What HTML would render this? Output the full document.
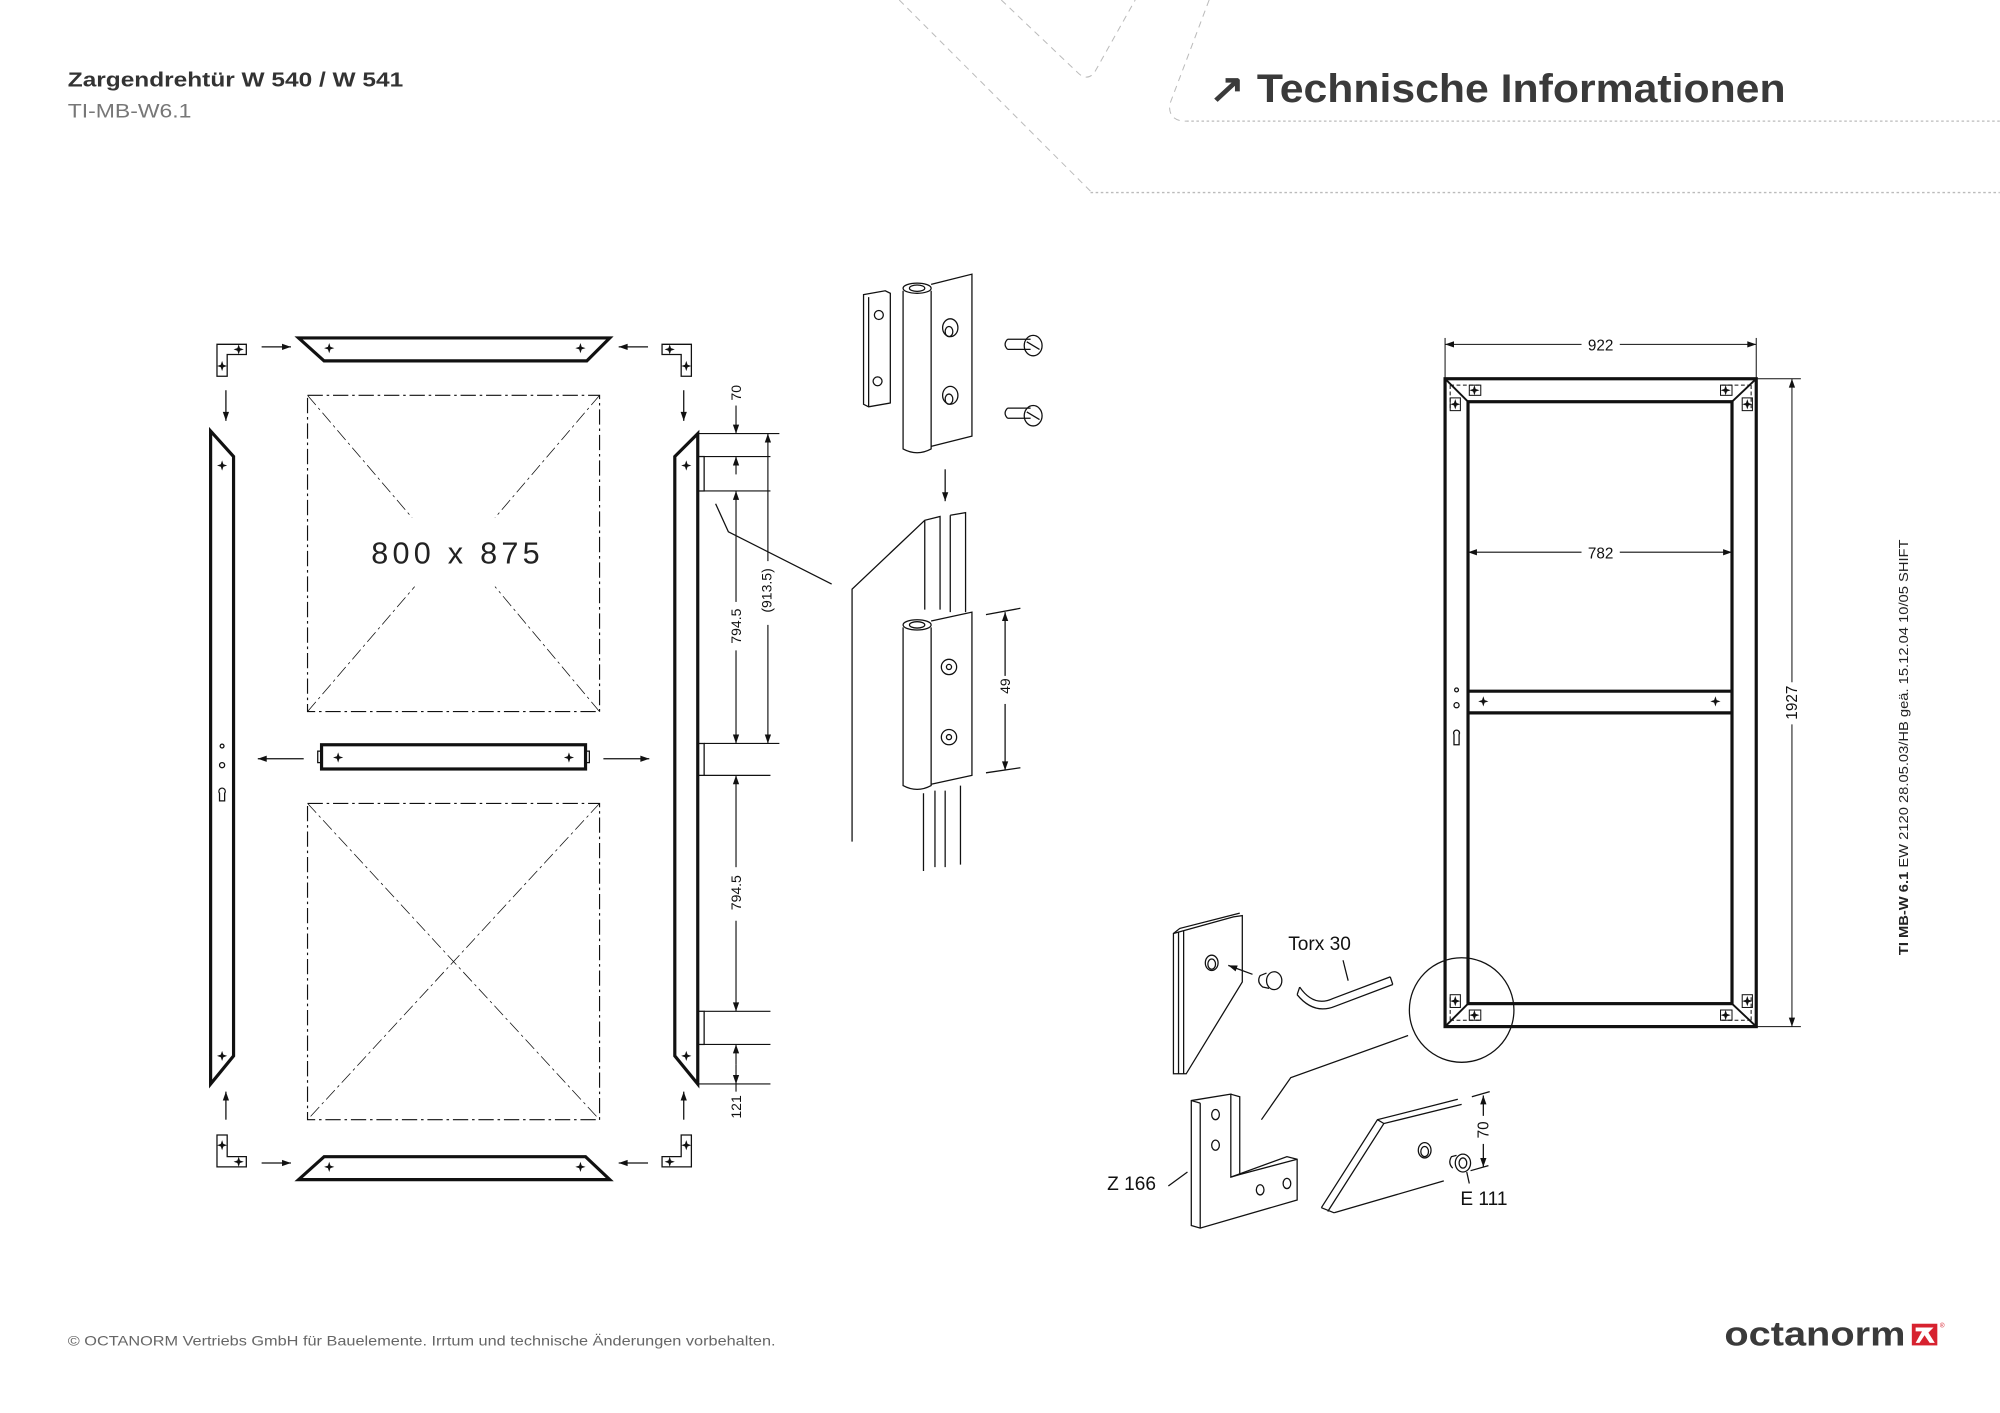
<!DOCTYPE html>
<html><head><meta charset="utf-8"><style>
html,body{margin:0;padding:0;background:#fff;width:2000px;height:1413px;overflow:hidden}
svg{display:block}
text{font-family:"Liberation Sans",sans-serif}
</style></head><body>
<svg width="2000" height="1413" viewBox="0 0 1568 1108" xmlns="http://www.w3.org/2000/svg">
<defs>
<g id="mk"><path d="M0,-4 L1,-1 L4,0 L1,1 L0,4 L-1,1 L-4,0 L-1,-1Z" fill="#111"/></g>
<marker id="ah" viewBox="0 0 10 10" refX="10" refY="5" markerWidth="9" markerHeight="7" orient="auto-start-reverse" markerUnits="userSpaceOnUse"><path d="M0,1.5 L10,5 L0,8.5Z" fill="#111"/></marker>
</defs>

<g fill="none" stroke="#bbb" stroke-width="0.8" stroke-dasharray="5,4">
<path d="M705,0 L855,150"/>
<path d="M785,0 L845,57 Q852,64 858,57 L890,0"/>
<path d="M948,0 L917,82 Q916,95 930,95"/>
</g>
<g stroke="#bbb" stroke-width="1" stroke-dasharray="2,2">
<line x1="930" y1="95" x2="1568" y2="95"/>
<line x1="855" y1="151" x2="1568" y2="151"/>
</g>

<text x="53" y="68" font-size="16" font-weight="bold" fill="#333" textLength="263" lengthAdjust="spacingAndGlyphs">Zargendrehtür W 540 / W 541</text>
<text x="53" y="92" font-size="15" fill="#777" textLength="97" lengthAdjust="spacingAndGlyphs">TI-MB-W6.1</text>
<text x="948" y="80" font-size="31" font-weight="bold" fill="#3a3a3a" textLength="452" lengthAdjust="spacingAndGlyphs">↗ Technische Informationen</text>

<g fill="none" stroke="#111" stroke-width="1">
<path d="M170,270 H193 V278 H178 V295 H170Z"/>
<path d="M542,270 H519 V278 H534 V295 H542Z"/>
<path d="M170,915 H193 V907 H178 V890 H170Z"/>
<path d="M542,915 H519 V907 H534 V890 H542Z"/>
<path d="M234,265 H478 L460,283 H254Z" stroke-width="2.5"/>
<path d="M254,907 H459 L478,925 H234Z" stroke-width="2.5"/>
<line x1="205" y1="272" x2="228" y2="272" marker-end="url(#ah)"/>
<line x1="508" y1="272" x2="485" y2="272" marker-end="url(#ah)"/>
<line x1="177" y1="306" x2="177" y2="330" marker-end="url(#ah)"/>
<line x1="536" y1="306" x2="536" y2="330" marker-end="url(#ah)"/>
<line x1="177" y1="878" x2="177" y2="856" marker-end="url(#ah)"/>
<line x1="536" y1="878" x2="536" y2="856" marker-end="url(#ah)"/>
<line x1="205" y1="912" x2="228" y2="912" marker-end="url(#ah)"/>
<line x1="508" y1="912" x2="485" y2="912" marker-end="url(#ah)"/>
<line x1="238" y1="595" x2="202" y2="595" marker-end="url(#ah)"/>
<line x1="473" y1="595" x2="509" y2="595" marker-end="url(#ah)"/>
<path d="M165,338 L183,358 V828 L165,850Z" stroke-width="2.5"/>
<circle cx="174" cy="585" r="1.5"/><circle cx="174" cy="600" r="2"/>
<path d="M172,628 V622 A2.5,2.5 0 1 1 176,622 V628Z"/>
<path d="M547,340 L529,358 V828 L547,850Z" stroke-width="2.5"/>
<rect x="547" y="358" width="5" height="27"/><rect x="547" y="583" width="5" height="25"/><rect x="547" y="793" width="5" height="26"/>
<rect x="252" y="584" width="207" height="19" stroke-width="2.5"/>
<rect x="249" y="589" width="3" height="9"/><rect x="459" y="589" width="3" height="9"/>
<g stroke-dasharray="12,3,2,3" stroke-width="0.9">
<rect x="241" y="310" width="229" height="248"/>
<rect x="241" y="630" width="229" height="248"/>
</g>
<g stroke-dasharray="10,3,2,3" stroke-width="0.6">
<line x1="241" y1="310" x2="323" y2="406"/><line x1="470" y1="310" x2="388" y2="406"/>
<line x1="241" y1="558" x2="325" y2="460"/><line x1="470" y1="558" x2="388" y2="460"/>
<line x1="241" y1="630" x2="470" y2="878"/><line x1="470" y1="630" x2="241" y2="878"/>
</g>
<g stroke-width="0.9">
<line x1="547" y1="340" x2="611" y2="340"/><line x1="552" y1="358" x2="604" y2="358"/>
<line x1="552" y1="385" x2="604" y2="385"/><line x1="552" y1="583" x2="611" y2="583"/>
<line x1="552" y1="608" x2="604" y2="608"/><line x1="552" y1="793" x2="604" y2="793"/>
<line x1="552" y1="819" x2="604" y2="819"/><line x1="547" y1="850" x2="604" y2="850"/>
<line x1="577" y1="318" x2="577" y2="340" marker-end="url(#ah)"/>
<line x1="577" y1="372" x2="577" y2="358" marker-end="url(#ah)"/>
<line x1="577" y1="472" x2="577" y2="385" marker-end="url(#ah)"/>
<line x1="577" y1="510" x2="577" y2="583" marker-end="url(#ah)"/>
<line x1="602" y1="440" x2="602" y2="340" marker-end="url(#ah)"/>
<line x1="602" y1="490" x2="602" y2="583" marker-end="url(#ah)"/>
<line x1="577" y1="680" x2="577" y2="608" marker-end="url(#ah)"/>
<line x1="577" y1="722" x2="577" y2="793" marker-end="url(#ah)"/>
<line x1="577" y1="835" x2="577" y2="819" marker-end="url(#ah)"/>
<line x1="577" y1="835" x2="577" y2="850" marker-end="url(#ah)"/>
<line x1="577" y1="850" x2="577" y2="856"/>
</g>
<path d="M561,395 L571,417 L652,458"/>
</g>
<use href="#mk" x="174" y="365"/><use href="#mk" x="174" y="828"/>
<use href="#mk" x="538" y="365"/><use href="#mk" x="538" y="828"/>
<use href="#mk" x="258" y="273"/><use href="#mk" x="455" y="273"/>
<use href="#mk" x="258" y="915"/><use href="#mk" x="455" y="915"/>
<use href="#mk" x="265" y="594"/><use href="#mk" x="446" y="594"/>
<use href="#mk" x="187" y="274"/><use href="#mk" x="174" y="287"/>
<use href="#mk" x="525" y="274"/><use href="#mk" x="538" y="287"/>
<use href="#mk" x="187" y="911"/><use href="#mk" x="174" y="898"/>
<use href="#mk" x="525" y="911"/><use href="#mk" x="538" y="898"/>
<text x="357" y="442" font-size="24" text-anchor="middle" fill="#222" font-family="DejaVu Sans, sans-serif" font-weight="200" textLength="132" lengthAdjust="spacing">800 x 875</text>
<g font-size="11" fill="#111" text-anchor="middle">
<text transform="translate(581,308) rotate(-90)">70</text>
<text transform="translate(581,491) rotate(-90)">794.5</text>
<text transform="translate(605,463) rotate(-90)">(913.5)</text>
<text transform="translate(581,700) rotate(-90)">794.5</text>
<text transform="translate(581,868) rotate(-90)">121</text>
</g>

<g fill="none" stroke="#111" stroke-width="1">
<path d="M677,231 L694,228 L698,230 V316 L681,319 L677,317Z"/><path d="M681,233 V319"/>
<circle cx="689" cy="247" r="3.5"/><circle cx="688" cy="299" r="3.5"/>
<path d="M708,228 V352 Q719,358 730,352 V228"/><ellipse cx="719" cy="226" rx="11" ry="4"/><ellipse cx="719" cy="226" rx="6" ry="2.5"/>
<path d="M730,223 L762,215 V342 L730,350"/>
<ellipse cx="745" cy="257" rx="6" ry="7"/><ellipse cx="744" cy="260" rx="3" ry="4"/>
<ellipse cx="745" cy="310" rx="6" ry="7"/><ellipse cx="744" cy="313" rx="3" ry="4"/>
<path d="M790,266 L808,266 M790,274 L808,274 M790,266 Q786,270 790,274"/><ellipse cx="810" cy="271" rx="7" ry="8"/><line x1="805" y1="268" x2="815" y2="274"/>
<path d="M790,320 L808,320 M790,328 L808,328 M790,320 Q786,324 790,328"/><ellipse cx="810" cy="326" rx="7" ry="8"/><line x1="805" y1="323" x2="815" y2="329"/>
<line x1="741" y1="368" x2="741" y2="393" marker-end="url(#ah)"/>
<path d="M668,660 V462 L725,408 L737,405 V478 M725,408 V478 M745,404 L757,402 V480 M745,404 V480"/>
<path d="M708,492 V616 Q719,622 730,616 V492"/><ellipse cx="719" cy="490" rx="11" ry="4"/><ellipse cx="719" cy="490" rx="6" ry="2.5"/>
<path d="M730,487 L762,480 V608 L730,615"/>
<circle cx="744" cy="523" r="6"/><circle cx="744" cy="523" r="2"/>
<circle cx="744" cy="578" r="6"/><circle cx="744" cy="578" r="2"/>
<path d="M724,622 V683 M733,620 V680 M741,620 V680 M753,616 V678"/>
<line x1="773" y1="482" x2="800" y2="477"/><line x1="773" y1="606" x2="800" y2="602"/>
<line x1="788" y1="530" x2="788" y2="480" marker-end="url(#ah)"/>
<line x1="788" y1="552" x2="788" y2="604" marker-end="url(#ah)"/>
</g>
<text transform="translate(792,538) rotate(-90)" font-size="11" text-anchor="middle" fill="#111">49</text>

<g fill="none" stroke="#111">
<rect x="1133" y="297" width="244" height="508" stroke-width="2.5"/>
<rect x="1151" y="315" width="207" height="472" stroke-width="2.5"/>
<line x1="1151" y1="542" x2="1358" y2="542" stroke-width="2.5"/>
<line x1="1151" y1="559" x2="1358" y2="559" stroke-width="2.5"/>
<g stroke-width="1.5"><line x1="1133" y1="297" x2="1151" y2="315"/><line x1="1377" y1="297" x2="1358" y2="315"/><line x1="1133" y1="805" x2="1151" y2="787"/><line x1="1377" y1="805" x2="1358" y2="787"/></g>
<g stroke-width="0.8">
<g stroke-dasharray="3,2">
<path d="M1137,302 V322 M1137,302 H1160"/>
<path d="M1373,302 V322 M1373,302 H1350"/>
<path d="M1137,800 V780 M1137,800 H1160"/>
<path d="M1373,800 V780 M1373,800 H1350"/>
</g>
<rect x="1137" y="312" width="8" height="10"/><rect x="1152" y="302" width="9" height="8"/>
<rect x="1366" y="312" width="8" height="10"/><rect x="1349" y="302" width="9" height="8"/>
<rect x="1137" y="780" width="8" height="10"/><rect x="1152" y="792" width="9" height="8"/>
<rect x="1366" y="780" width="8" height="10"/><rect x="1349" y="792" width="9" height="8"/>
<line x1="1133" y1="265" x2="1133" y2="297"/><line x1="1377" y1="265" x2="1377" y2="297"/>
<line x1="1377" y1="297" x2="1412" y2="297"/><line x1="1377" y1="805" x2="1412" y2="805"/>
<line x1="1240" y1="270" x2="1133" y2="270" marker-end="url(#ah)"/>
<line x1="1270" y1="270" x2="1377" y2="270" marker-end="url(#ah)"/>
<line x1="1240" y1="433" x2="1151" y2="433" marker-end="url(#ah)"/>
<line x1="1270" y1="433" x2="1358" y2="433" marker-end="url(#ah)"/>
<line x1="1405" y1="535" x2="1405" y2="297" marker-end="url(#ah)"/>
<line x1="1405" y1="568" x2="1405" y2="805" marker-end="url(#ah)"/>
</g>
<circle cx="1142" cy="541" r="1.5"/><circle cx="1142" cy="553" r="2"/>
<path d="M1140,584 V576 A2.3,2.3 0 1 1 1144,576 V584Z"/>
</g>
<use href="#mk" x="1163" y="550"/><use href="#mk" x="1345" y="550"/>
<use href="#mk" x="1141" y="317"/><use href="#mk" x="1156" y="306"/>
<use href="#mk" x="1370" y="317"/><use href="#mk" x="1353" y="306"/>
<use href="#mk" x="1141" y="785"/><use href="#mk" x="1156" y="796"/>
<use href="#mk" x="1370" y="785"/><use href="#mk" x="1353" y="796"/>
<g font-size="12" fill="#111" text-anchor="middle">
<text x="1255" y="275">922</text><text x="1255" y="438">782</text>
<text transform="translate(1409,551) rotate(-90)">1927</text>
</g>
<text transform="translate(1496,749) rotate(-90)" font-size="10" fill="#222" font-family="DejaVu Sans, sans-serif" textLength="326" lengthAdjust="spacingAndGlyphs"><tspan font-weight="bold">TI MB-W 6.1</tspan> EW 2120 28.05.03/HB geä. 15.12.04 10/05 SHIFT</text>

<g fill="none" stroke="#111" stroke-width="1">
<circle cx="1146" cy="792" r="41"/>
<path d="M1104,812 L1012,845 L989,878"/>
<path d="M920,732 L967,719 L974,718 V770 L930,842 H920Z"/><path d="M924,731 V842 M928,730 V842"/><path d="M920,732 L925,728 L972,716"/>
<ellipse cx="950" cy="755" rx="5" ry="6"/><ellipse cx="950" cy="756" rx="3" ry="4"/>
<line x1="982" y1="764" x2="963" y2="757" marker-end="url(#ah)"/>
<ellipse cx="999" cy="769" rx="6" ry="7"/><path d="M993,763 L988,765 Q985,770 990,774 L995,775"/>
<path d="M1019,774 Q1030,790 1045,783 L1090,766 M1017,780 Q1030,796 1047,789 L1092,772"/><path d="M1090,766 L1092,772 M1019,774 L1017,780"/>
<line x1="1053" y1="753" x2="1057" y2="769"/>
<path d="M934,863 L965,858 V923 L1009,907 L1017,909 V941 L941,963 L934,961Z"/><path d="M941,865 V963 M941,865 L934,863 M965,858 L972,860 V921 M965,923 L972,921 L1017,909"/>
<ellipse cx="953" cy="874" rx="3" ry="4"/><ellipse cx="953" cy="898" rx="3" ry="4"/><ellipse cx="988" cy="933" rx="3" ry="4"/><ellipse cx="1009" cy="928" rx="3" ry="4"/>
<line x1="916" y1="930" x2="931" y2="919"/>
<path d="M1036,947 L1080,878 L1143,862 M1041,950 L1085,881 L1146,866 M1046,951 L1132,926"/><path d="M1036,947 L1046,951 M1080,878 L1085,881"/>
<ellipse cx="1117" cy="902" rx="5" ry="6"/><ellipse cx="1117" cy="903" rx="3" ry="4"/>
<ellipse cx="1147" cy="912" rx="6" ry="7"/><ellipse cx="1147" cy="912" rx="3" ry="4"/><path d="M1142,906 L1138,907 Q1135,912 1139,916"/>
<line x1="1150" y1="919" x2="1152" y2="928"/>
<line x1="1154" y1="860" x2="1168" y2="856"/><line x1="1153" y1="918" x2="1167" y2="914"/>
<line x1="1163" y1="875" x2="1163" y2="859" marker-end="url(#ah)"/>
<line x1="1163" y1="897" x2="1163" y2="915" marker-end="url(#ah)"/>
</g>
<g font-size="15" fill="#111" font-family="DejaVu Sans, sans-serif" font-weight="200">
<text x="1010" y="745">Torx 30</text>
<text x="868" y="933">Z 166</text>
<text x="1145" y="945">E 111</text>
</g>
<text transform="translate(1167,886) rotate(-90)" font-size="12" text-anchor="middle" fill="#111">70</text>

<text x="53" y="1055" font-size="11" fill="#666" textLength="555" lengthAdjust="spacingAndGlyphs">© OCTANORM Vertriebs GmbH für Bauelemente. Irrtum und technische Änderungen vorbehalten.</text>
<text x="1352" y="1055" font-size="27" font-weight="bold" fill="#3a3a3a" textLength="142" lengthAdjust="spacingAndGlyphs">octanorm</text>
<rect x="1499" y="1038" width="20" height="17" fill="#d7222f"/>
<path d="M1502,1041 H1516 L1512,1045 L1517,1053 H1513 L1509,1047 L1505,1053 H1502 L1507,1044 H1502Z" fill="#fff"/>
<text x="1521" y="1041" font-size="5" fill="#d7222f">®</text>
</svg>
</body></html>
